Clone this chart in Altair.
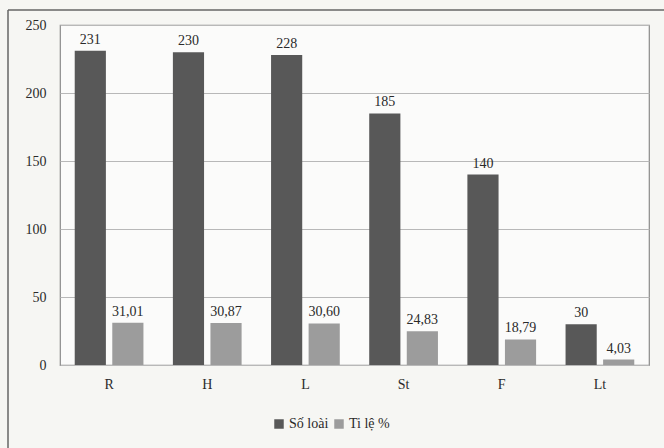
import altair as alt
import pandas as pd

categories = ["R", "H", "L", "St", "F", "Lt"]
so_loai = [231, 230, 228, 185, 140, 30]
ti_le = [31.01, 30.87, 30.60, 24.83, 18.79, 4.03]
series_names = ["Số loài", "Ti lệ %"]

rows = []
for c, a, b in zip(categories, so_loai, ti_le):
    rows.append({"cat": c, "series": series_names[0], "value": a, "label": str(a)})
    rows.append({"cat": c, "series": series_names[1], "value": b, "label": f"{b:.2f}".replace(".", ",")})
df = pd.DataFrame(rows)

FONT = "Liberation Serif"
TXT = "#2a2a2a"

x = alt.X("cat:N", sort=categories, title=None,
          scale=alt.Scale(paddingInner=0.3, paddingOuter=0.15),
          axis=alt.Axis(labelAngle=0, tickSize=0, domain=False, labelPadding=12,
                        labelFont=FONT, labelFontSize=14, labelColor=TXT))
xo = alt.XOffset("series:N", sort=series_names, scale=alt.Scale(paddingInner=0.17))
y = alt.Y("value:Q", title=None,
          scale=alt.Scale(domain=[0, 250]),
          axis=alt.Axis(values=[0, 50, 100, 150, 200, 250], tickSize=0, domain=False,
                        labelPadding=14, labelFont=FONT, labelFontSize=14,
                        labelColor=TXT, gridColor="#b8b8b8", gridWidth=1))

color = alt.Color("series:N", sort=series_names,
                  scale=alt.Scale(domain=series_names, range=["#585858", "#9c9c9c"]),
                  legend=alt.Legend(title=None, orient="none", direction="horizontal",
                                    legendX=212, legendY=392, symbolType="square",
                                    symbolSize=90, symbolStrokeWidth=0,
                                    labelFont=FONT, labelFontSize=14, labelColor=TXT,
                                    columnPadding=3, symbolOffset=0, labelOffset=3))

bars = alt.Chart(df).mark_bar().encode(x=x, xOffset=xo, y=y, color=color)
texts = alt.Chart(df).mark_text(baseline="bottom", dy=-4, font=FONT, fontSize=14,
                                color=TXT).encode(x=x, xOffset=xo, y=y, text="label:N")

frame_df = pd.DataFrame({"k": [0]})
frame_top = alt.Chart(frame_df).mark_rule(stroke="#666", strokeWidth=1.5, clip=False).encode(
    x=alt.value(-52), x2=alt.value(604), y=alt.value(-15))
frame_left = alt.Chart(frame_df).mark_rule(stroke="#666", strokeWidth=1.5, clip=False).encode(
    x=alt.value(-52), y=alt.value(-15), y2=alt.value(423))

chart = alt.layer(frame_top, frame_left, bars, texts).properties(
    width=589, height=340,
    autosize=alt.AutoSizeParams(type="none"),
    padding={"left": 60, "top": 25, "right": 15, "bottom": 83},
    background="#f6f6f3",
).configure_view(stroke="#8a8a8a", strokeWidth=1.2, fill="#fbfbfa"
).configure_legend(labelFont=FONT, labelFontSize=14, labelColor=TXT)

chart.save("out.html", embed_options={"renderer": "svg", "actions": False})
